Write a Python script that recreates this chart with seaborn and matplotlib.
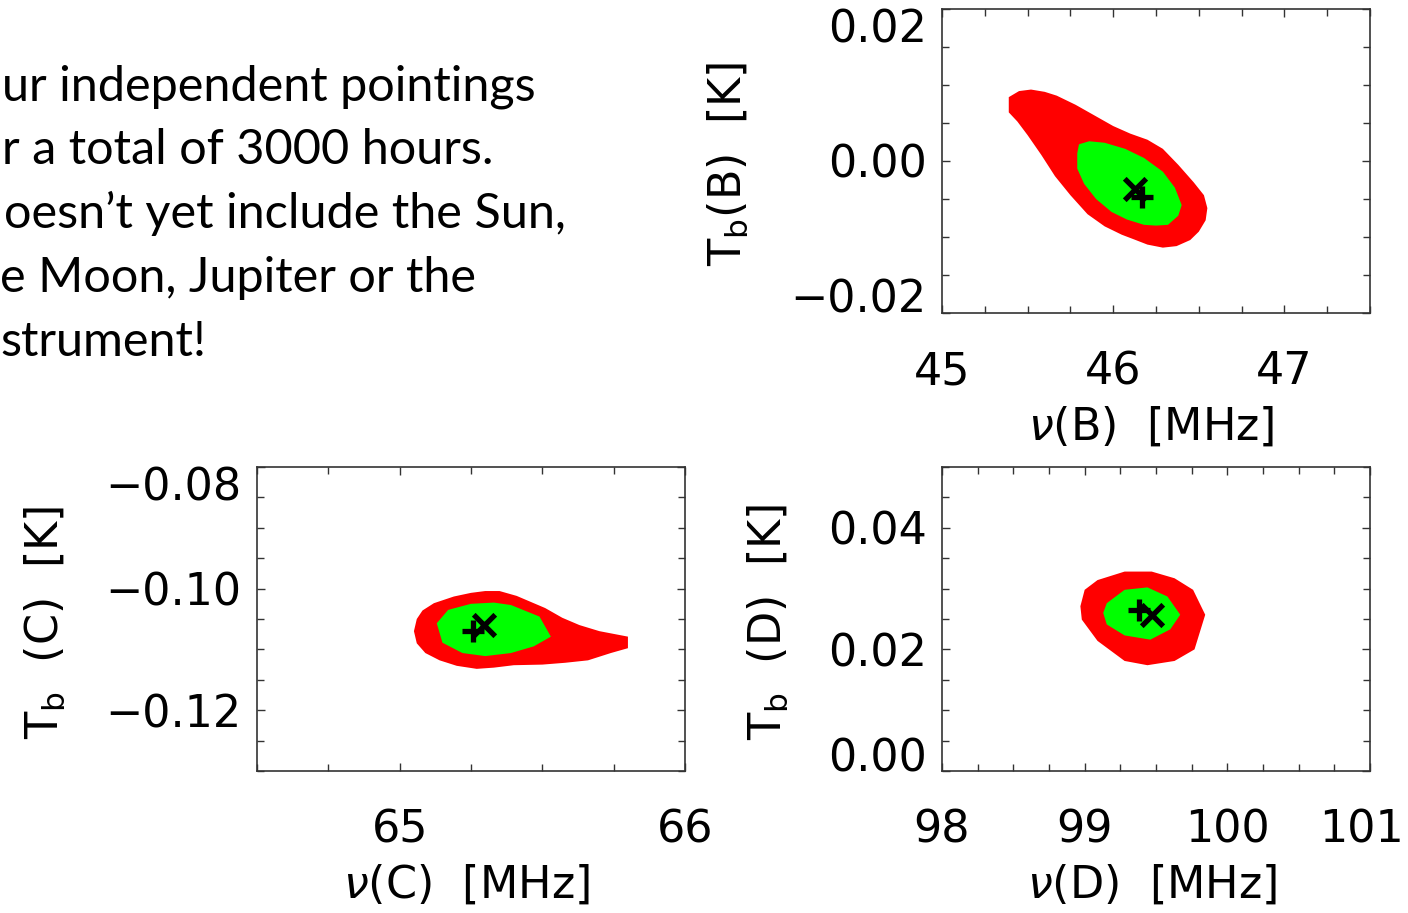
import matplotlib
matplotlib.use("Agg")
import matplotlib.pyplot as plt
from matplotlib.ticker import MultipleLocator
from matplotlib.transforms import ScaledTranslation
import seaborn as sns

# ---- slide text (the part that lies on the page) ----------------------
text_lines = [
    "ur independent pointings",
    "r a total of 3000 hours.",
    "oesn\u2019t yet include the Sun,",
    "e Moon, Jupiter or the",
    "strument!",
]
text_left_px = [2, 2, 4, 0, 0]
text_baseline_px = [100, 164, 228, 292, 356]

# ---- panel B : nu(B) [MHz] vs Tb(B) [K] --------------------------------
b_outer_nu = [45.39, 45.39, 45.45, 45.52, 45.60, 45.67, 45.78, 45.89, 46.00, 46.10,
              46.20, 46.29, 46.38, 46.47, 46.53, 46.55, 46.54, 46.50, 46.45, 46.37,
              46.29, 46.20, 46.12, 46.05, 45.95, 45.85, 45.75, 45.66, 45.58, 45.50, 45.44]
b_outer_tb = [0.0064, 0.0084, 0.0092, 0.0094, 0.0091, 0.0086, 0.0074, 0.0060, 0.0046, 0.0036,
              0.0028, 0.0016, -0.0005, -0.0028, -0.0045, -0.0062, -0.0078, -0.0093, -0.0104, -0.0112,
              -0.0114, -0.0110, -0.0103, -0.0097, -0.0086, -0.0070, -0.0045, -0.0020, 0.0008, 0.0034, 0.0052]
b_inner_nu = [45.79, 45.80, 45.86, 45.95, 46.07, 46.18, 46.29, 46.36, 46.40, 46.38,
              46.32, 46.25, 46.18, 46.08, 45.99, 45.90, 45.83, 45.79]
b_inner_tb = [0.0010, 0.0022, 0.0026, 0.0024, 0.0016, 0.0004, -0.0014, -0.0035, -0.0058, -0.0072,
              -0.0084, -0.0085, -0.0084, -0.0077, -0.0067, -0.0050, -0.0030, -0.0010]
b_plus = (46.17, -0.0048)
b_cross = (46.13, -0.0037)
b_xticks = [45, 46, 47]
b_yticks = [-0.02, 0.00, 0.02]

# ---- panel C : nu(C) [MHz] vs Tb(C) [K] --------------------------------
c_outer_nu = [65.05, 65.06, 65.08, 65.12, 65.19, 65.25, 65.30, 65.35, 65.41, 65.46,
              65.51, 65.57, 65.63, 65.70, 65.80, 65.80, 65.74, 65.66, 65.58, 65.50,
              65.40, 65.33, 65.27, 65.20, 65.14, 65.09, 65.06]
c_outer_tb = [-0.1070, -0.1050, -0.1036, -0.1024, -0.1013, -0.1007, -0.1004, -0.1004, -0.1012, -0.1022,
              -0.1032, -0.1048, -0.1060, -0.1070, -0.1079, -0.1098, -0.1106, -0.1118, -0.1122, -0.1125,
              -0.1126, -0.1130, -0.1132, -0.1127, -0.1118, -0.1106, -0.1090]
c_inner_nu = [65.13, 65.17, 65.25, 65.33, 65.39, 65.49, 65.53, 65.47, 65.39, 65.30, 65.22, 65.15]
c_inner_tb = [-0.1057, -0.1035, -0.1025, -0.1023, -0.1027, -0.1046, -0.1079, -0.1095,
              -0.1106, -0.1111, -0.1106, -0.1089]
c_plus = (65.256, -0.1070)
c_cross = (65.295, -0.1060)
c_xticks = [65, 66]
c_yticks = [-0.12, -0.10, -0.08]

# ---- panel D : nu(D) [MHz] vs Tb(D) [K] --------------------------------
d_outer_nu = [99.00, 99.09, 99.28, 99.47, 99.63, 99.76, 99.845, 99.77, 99.63, 99.44,
              99.28, 99.09, 98.98, 98.97]
d_outer_tb = [0.0298, 0.0314, 0.0328, 0.0328, 0.0317, 0.0298, 0.0257, 0.0200, 0.0181, 0.0174,
              0.0181, 0.0214, 0.0249, 0.0271]
d_inner_nu = [99.155, 99.28, 99.44, 99.58, 99.67, 99.60, 99.46, 99.28, 99.155, 99.13]
d_inner_tb = [0.0276, 0.0298, 0.0302, 0.0287, 0.0257, 0.0233, 0.0216, 0.0223, 0.0241, 0.0260]
d_plus = (99.38, 0.0265)
d_cross = (99.47, 0.0256)
d_xticks = [98, 99, 100, 101]
d_yticks = [0.00, 0.02, 0.04]

RED = "#ff0000"
GREEN = "#00ff00"

sns.set_theme(style="ticks")
plt.rcParams["font.family"] = ["DejaVu Sans"]
plt.rcParams["mathtext.fontset"] = "dejavusans"
plt.rcParams["text.color"] = "black"
plt.rcParams["axes.labelcolor"] = "black"

W, H = 1408, 913
fig = plt.figure(figsize=(W / 100, H / 100), dpi=100)
fig.patch.set_facecolor("white")


def fmt(v):
    s = f"{abs(v):.2f}"
    return ("\u2212" + s) if v < -1e-12 else s


def panel(box_px, outer, inner, plus, cross, xlim, ylim, xticks, yticks,
          xlabel, ylabel, ylab_x, ytop_va, ybot_va, last_xlabel_shift=0):
    x0, y0, x1, y1 = box_px
    ax = fig.add_axes([x0 / W, 1 - y1 / H, (x1 - x0) / W, (y1 - y0) / H])
    ax.set_facecolor("white")
    ax.fill(outer[0], outer[1], color=RED, lw=0, zorder=1)
    ax.fill(inner[0], inner[1], color=GREEN, lw=0, zorder=2)
    sns.scatterplot(x=[plus[0]], y=[plus[1]], marker="+", s=240, color="black",
                    linewidth=3.8, ax=ax, zorder=5, legend=False)
    sns.scatterplot(x=[cross[0]], y=[cross[1]], marker="x", s=240, color="black",
                    linewidth=3.8, ax=ax, zorder=5, legend=False)
    ax.set_xlim(*xlim)
    ax.set_ylim(*ylim)
    ax.set_xticks(xticks)
    ax.set_xticklabels([str(t) for t in xticks])
    ax.set_yticks(yticks)
    ax.set_yticklabels([fmt(t) for t in yticks])
    ax.xaxis.set_minor_locator(MultipleLocator(0.25))
    ax.yaxis.set_minor_locator(MultipleLocator(0.005))
    ax.tick_params(which="both", direction="in", top=True, right=True,
                   width=1.0, color="#333333", labelsize=32, labelcolor="black")
    ax.tick_params(which="major", length=6)
    ax.tick_params(which="minor", length=5)
    ax.tick_params(axis="x", which="major", pad=27)
    ax.tick_params(axis="y", which="major", pad=11)
    ylabs = ax.get_yticklabels()
    if ytop_va:
        ylabs[-1].set_va(ytop_va)
    if ybot_va:
        ylabs[0].set_va(ybot_va)
    if last_xlabel_shift:
        lab = ax.get_xticklabels()[-1]
        lab.set_transform(lab.get_transform() +
                          ScaledTranslation(last_xlabel_shift / 100, 0, fig.dpi_scale_trans))
    for sp in ax.spines.values():
        sp.set_linewidth(1.2)
        sp.set_color("#333333")
    ax.set_xlabel(xlabel, fontsize=32, color="black")
    ax.xaxis.label.set_va("center")
    ax.xaxis.set_label_coords(0.49, -0.375)
    ax.set_ylabel(ylabel, fontsize=32, color="black")
    ax.yaxis.label.set_va("center")
    ax.yaxis.set_label_coords(ylab_x, 0.49)
    return ax


panel((942, 9, 1370, 313), (b_outer_nu, b_outer_tb), (b_inner_nu, b_inner_tb),
      b_plus, b_cross, (45, 47.5), (-0.02, 0.02), b_xticks, b_yticks,
      r"$\nu$(B)  [MHz]", r"T$_{\mathrm{b}}$(B)  [K]", -0.50, "top", "baseline")

panel((257, 467, 685, 771), (c_outer_nu, c_outer_tb), (c_inner_nu, c_inner_tb),
      c_plus, c_cross, (64.5, 66.0), (-0.13, -0.08), c_xticks, c_yticks,
      r"$\nu$(C)  [MHz]", r"T$_{\mathrm{b}}$  (C)  [K]", -0.495, "top", None)

panel((942, 467, 1370, 771), (d_outer_nu, d_outer_tb), (d_inner_nu, d_inner_tb),
      d_plus, d_cross, (98, 101), (0.0, 0.05), d_xticks, d_yticks,
      r"$\nu$(D)  [MHz]", r"T$_{\mathrm{b}}$  (D)  [K]", -0.407, None, "baseline",
      last_xlabel_shift=-8)

for line, xl, yb in zip(text_lines, text_left_px, text_baseline_px):
    fig.text(xl / W, 1 - yb / H, line, ha="left", va="baseline",
             fontsize=35, family=["Lato", "DejaVu Sans"], color="black")

fig.savefig("out.png", dpi=100, facecolor="white")
